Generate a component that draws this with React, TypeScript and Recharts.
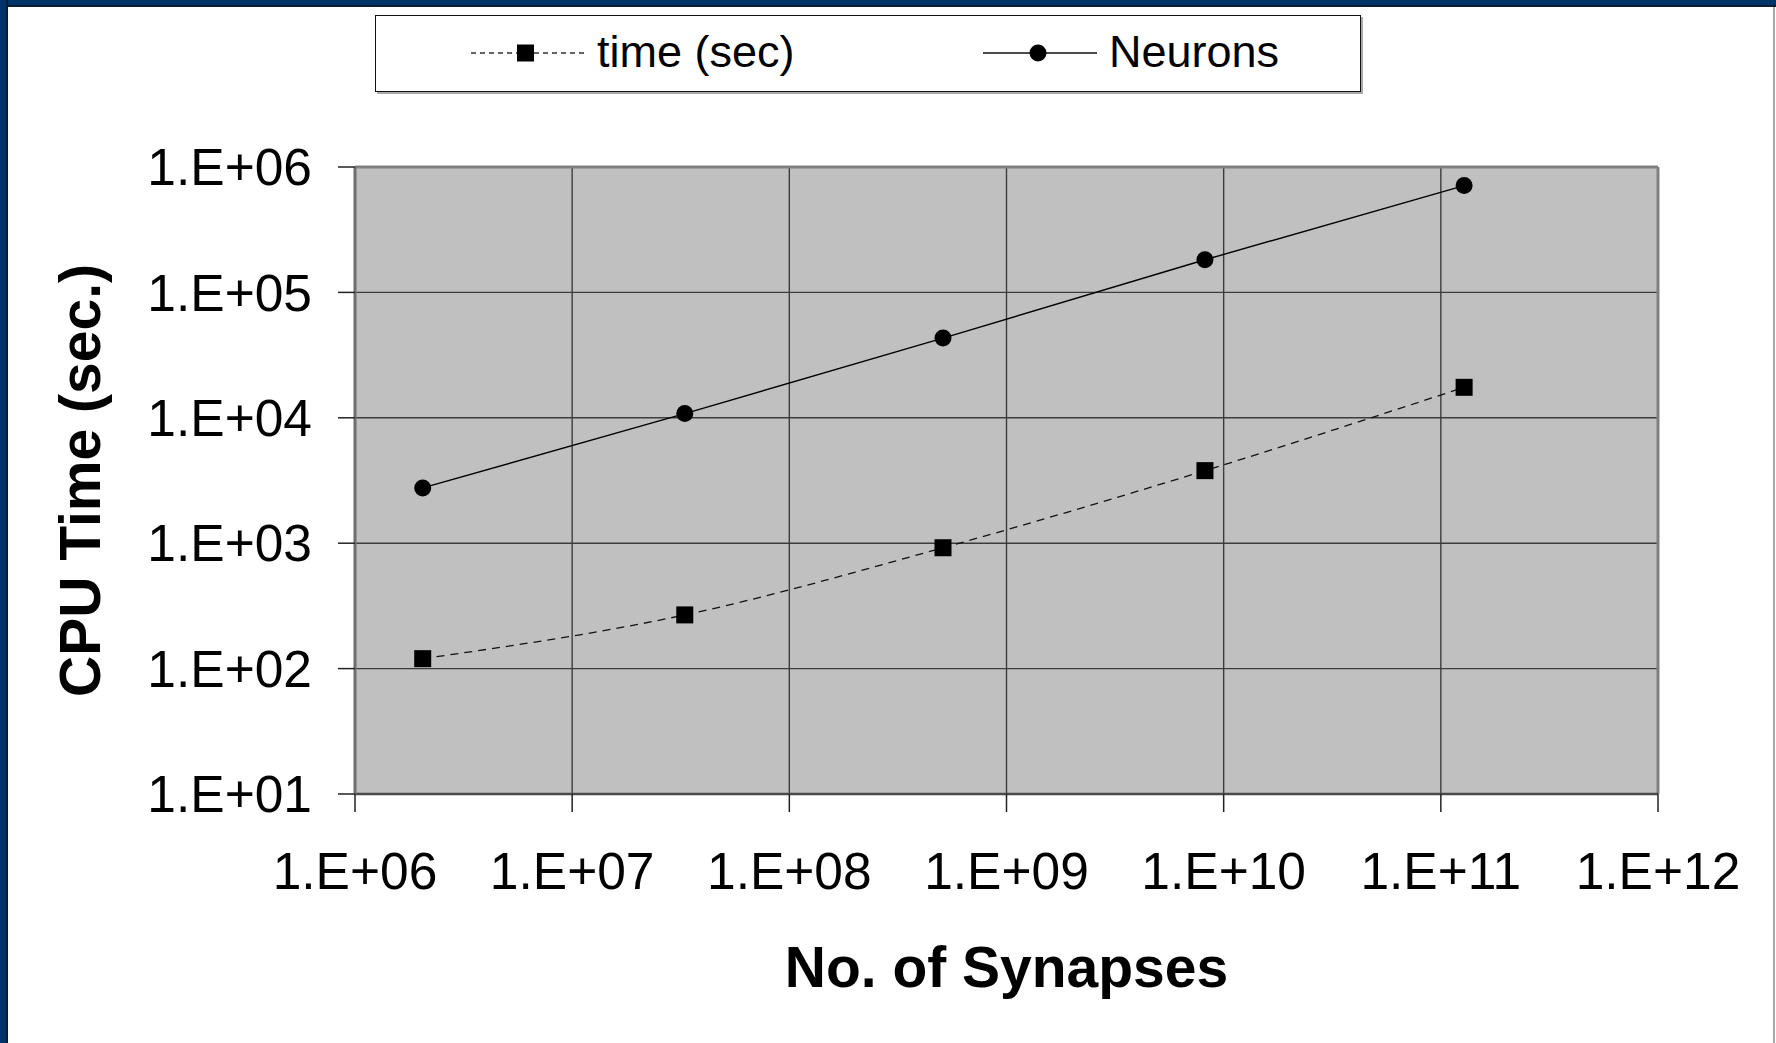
import { LineChart, Line, XAxis, YAxis, CartesianGrid, ReferenceLine, Label } from 'recharts';

// values (log-log plot)
const synapses = [2.05e6, 3.3e7, 5.1e8, 8.2e9, 1.28e11];
const timeSec = [120, 268, 920, 3790, 17500];
const neurons = [2760, 10800, 43200, 182000, 711000];

const xTicks = [1e6, 1e7, 1e8, 1e9, 1e10, 1e11, 1e12];
const xTickLabels = ['1.E+06', '1.E+07', '1.E+08', '1.E+09', '1.E+10', '1.E+11', '1.E+12'];
const yTicks = [1e1, 1e2, 1e3, 1e4, 1e5, 1e6];
const yTickLabels = ['1.E+01', '1.E+02', '1.E+03', '1.E+04', '1.E+05', '1.E+06'];

const rows = synapses.map((x, i) => ({ x, time: timeSec[i], neurons: neurons[i] }));

const FONT = '"Liberation Sans", Arial, Helvetica, sans-serif';

function SquareDot(props: any) {
  const { cx, cy, index } = props;
  if (cx == null || cy == null) return null;
  return <rect key={`sq-${index}`} x={cx - 8.5} y={cy - 8.5} width={17} height={17} fill="#000" />;
}

function XTitle(props: any) {
  const { x, y, width } = props.viewBox;
  return (
    <text x={x + width / 2} y={y + 193} textAnchor="middle" fontFamily={FONT} fontWeight="bold" fontSize={57} fill="#000">
      No. of Synapses
    </text>
  );
}

function YTitle(props: any) {
  const { y, height } = props.viewBox;
  const cx = 100;
  const cy = y + height / 2;
  return (
    <text x={cx} y={cy} transform={`rotate(-90, ${cx}, ${cy})`} textAnchor="middle" fontFamily={FONT} fontWeight="bold" fontSize={57} fill="#000">
      CPU Time (sec.)
    </text>
  );
}

function Legend() {
  return (
    <div
      style={{
        position: 'absolute', left: 375, top: 15, width: 984, height: 75,
        border: '1.5px solid #111', boxShadow: '2px 2px 0 #aaa', background: '#fff',
        fontFamily: FONT, fontSize: 45, color: '#000',
      }}
    >
      <svg width={130} height={30} style={{ position: 'absolute', left: 93, top: 22 }}>
        <line x1={2} y1={15} x2={117} y2={15} stroke="#333" strokeWidth={1.3} strokeDasharray="5 4" />
        <rect x={48} y={6.5} width={17} height={17} fill="#000" />
      </svg>
      <span style={{ position: 'absolute', left: 221, top: 11, lineHeight: '50px' }}>time (sec)</span>
      <svg width={130} height={30} style={{ position: 'absolute', left: 605, top: 22 }}>
        <line x1={2} y1={15} x2={116} y2={15} stroke="#111" strokeWidth={1.3} />
        <circle cx={57} cy={15} r={8.5} fill="#000" />
      </svg>
      <span style={{ position: 'absolute', left: 733, top: 11, lineHeight: '50px' }}>Neurons</span>
    </div>
  );
}

export default function App() {
  return (
    <div style={{ position: 'absolute', left: 0, top: 0, width: 1776, height: 1043, background: '#fff', overflow: 'hidden' }}>
      <div style={{ position: 'absolute', left: 0, top: 0, width: 1776, height: 5, background: '#003366', borderBottom: '2px solid #0b1d33' }} />
      <div style={{ position: 'absolute', left: 0, top: 0, width: 6, height: 1043, background: '#003366', borderRight: '2px solid #0b1d33' }} />
      <div style={{ position: 'absolute', left: 1773, top: 7, width: 2, height: 1036, background: '#a8a8a8' }} />
      <div style={{ position: 'absolute', left: 0, top: 0 }}>
        <LineChart width={1776} height={1043} data={rows} margin={{ top: 167, right: 118, bottom: 0, left: 0 }}>
          <CartesianGrid stroke="#3c3c3c" strokeWidth={1.4} fill="#c0c0c0" fillOpacity={1} />
          <XAxis
            dataKey="x"
            type="number"
            scale="log"
            domain={[1e6, 1e12]}
            ticks={xTicks}
            tickFormatter={(v: number) => xTickLabels[xTicks.indexOf(v)] ?? ''}
            height={249}
            tickSize={18}
            tickMargin={40}
            tick={{ fill: '#000', fontSize: 51.5, fontFamily: FONT }}
            axisLine={{ stroke: '#4a4a4a', strokeWidth: 2.5 }}
            tickLine={{ stroke: '#222', strokeWidth: 1.5 }}
            allowDataOverflow
          >
            <Label content={XTitle} />
          </XAxis>
          <YAxis
            type="number"
            scale="log"
            domain={[10, 1e6]}
            ticks={yTicks}
            tickFormatter={(v: number) => yTickLabels[yTicks.indexOf(v)] ?? ''}
            width={355}
            tickSize={17}
            tickMargin={26}
            tick={{ fill: '#000', fontSize: 51.5, fontFamily: FONT }}
            axisLine={{ stroke: '#6e6e6e', strokeWidth: 3 }}
            tickLine={{ stroke: '#222', strokeWidth: 1.5 }}
            allowDataOverflow
          >
            <Label content={YTitle} />
          </YAxis>
          <ReferenceLine y={1e6} stroke="#808080" strokeWidth={3} />
          <ReferenceLine x={1e12} stroke="#808080" strokeWidth={3} />
          <Line
            dataKey="time"
            type="monotone"
            stroke="#111"
            strokeWidth={1.3}
            strokeDasharray="8 6"
            dot={SquareDot}
            activeDot={false}
            isAnimationActive={false}
          />
          <Line
            dataKey="neurons"
            type="linear"
            stroke="#000"
            strokeWidth={1.4}
            dot={{ r: 8.5, fill: '#000', stroke: '#000', strokeWidth: 0 }}
            activeDot={false}
            isAnimationActive={false}
          />
        </LineChart>
      </div>
      <Legend />
    </div>
  );
}
